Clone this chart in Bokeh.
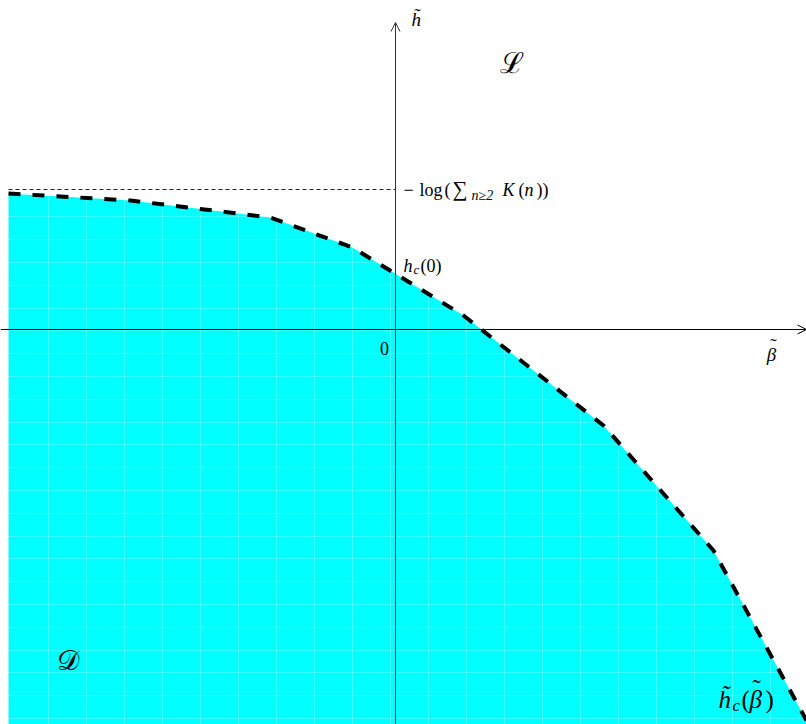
import numpy as np
from bokeh.plotting import figure
from bokeh.models import Range1d, Label, Arrow, OpenHead, FixedTicker, Grid
from bokeh.embed import file_html
from bokeh.resources import INLINE

# ---- data ----
beta = [-3.87, -2.65, -1.25, -0.43, 0.68, 2.08, 3.18, 4.11]
h_c = [1.36, 1.29, 1.12, 0.82, 0.14, -0.96, -2.21, -3.91]
asymptote = 1.40
zero_tick = 0

X0, X1 = -3.95, 4.11
Y0, Y1 = -3.95, 3.29

p = figure(width=806, height=724, x_range=Range1d(X0, X1), y_range=Range1d(Y0, Y1),
           output_backend="svg", toolbar_location=None, min_border=0,
           x_axis_type=None, y_axis_type=None)
p.outline_line_color = None
p.background_fill_color = "white"
p.border_fill_color = "white"

# faint shading artefacts inside the filled region (drawn above the fill)
for dim, ticks, alpha in ((0, np.arange(-3.47, 4.2, 0.38), 0.25),
                          (1, np.arange(-3.89, 1.5, 0.228), 0.2)):
    g = Grid(dimension=dim, ticker=FixedTicker(ticks=list(np.round(ticks, 3))),
             grid_line_color="white", grid_line_alpha=alpha, grid_line_width=1,
             level="guide")
    p.add_layout(g)

# filled region D
area = p.varea(x=beta, y1=Y0 - 1, y2=h_c, fill_color="#00FFFF", fill_alpha=1.0)

# asymptote
asym = p.line([beta[0], 0], [asymptote, asymptote], line_color="#222222", line_width=1, line_dash="4 3")
asym.level = "annotation"

# critical curve
crit = p.line(beta, h_c, line_color="black", line_width=4, line_dash="12 12")
crit.level = "annotation"

# axes with arrows
p.add_layout(Arrow(end=OpenHead(size=9, line_width=1, line_color="black"),
                   x_start=X0, y_start=0, x_end=X1, y_end=0,
                   line_color="black", line_width=1))
p.add_layout(Arrow(end=OpenHead(size=9, line_width=1, line_color="#333333"),
                   x_start=0, y_start=Y0, x_end=0, y_end=3.07,
                   line_color="#333333", line_width=1))

SERIF = "Liberation Serif"


def put(txt, x, y, dx=0, dy=0, size=18, italic=False, align="left", font=SERIF):
    p.add_layout(Label(x=x, y=y, x_offset=dx, y_offset=dy, text=txt,
                       text_font=font, text_font_size=f"{size}px",
                       text_font_style="italic" if italic else "normal",
                       text_align=align, text_baseline="middle", text_color="black"))


# axis labels
put("h\u0303", 0.16, 3.10, size=19, italic=True)
put("\u03b2", 3.76, -0.25, size=19, italic=True, align="center")
put("\u02dc", 3.76, -0.25, dx=2, dy=9, size=19, align="center")
put("0", zero_tick - 0.11, -0.19, size=18, align="center")

# region labels
put("\u2112", 1.16, 2.67, size=29, align="center", font="DejaVu Serif")
put("\U0001D49F", -3.28, -3.31, size=28, align="center", font="DejaVu Serif")

# asymptote label: -log(sum_{n>=2} K(n))
ax = 0.08
put("\u2212", ax, asymptote, dx=0, size=18)
put("log", ax, asymptote, dx=16, size=18)
put("(", ax, asymptote, dx=41, size=18)
put("\u2211", ax, asymptote, dx=49, dy=1, size=21)
put("n\u22652", ax, asymptote, dx=68, dy=-6, size=14, italic=True)
put("K", ax, asymptote, dx=99, size=18, italic=True)
put("(", ax, asymptote, dx=115, size=18)
put("n", ax, asymptote, dx=121, size=18, italic=True)
put("))", ax, asymptote, dx=133, size=18)

# h_c(0) label
hc0 = float(np.interp(0, beta, h_c))
put("h", ax, hc0 + 0.08, dx=0, size=18, italic=True)
put("c", ax, hc0 + 0.08, dx=10, dy=-4, size=13, italic=True)
put("(0)", ax, hc0 + 0.08, dx=17, size=18)

# curve label h~_c(beta~)
lx, yl = 3.23, -3.70
put("h\u0303", lx, yl, dx=0, size=25, italic=True)
put("c", lx, yl, dx=14, dy=-6, size=17, italic=True)
put("(", lx, yl, dx=23, size=25)
put("\u03b2", lx, yl, dx=31, size=25, italic=True)
put("\u02dc", lx, yl, dx=34, dy=11, size=25)
put(")", lx, yl, dx=47, size=25)

open("out.html", "w").write(file_html(p, INLINE))
